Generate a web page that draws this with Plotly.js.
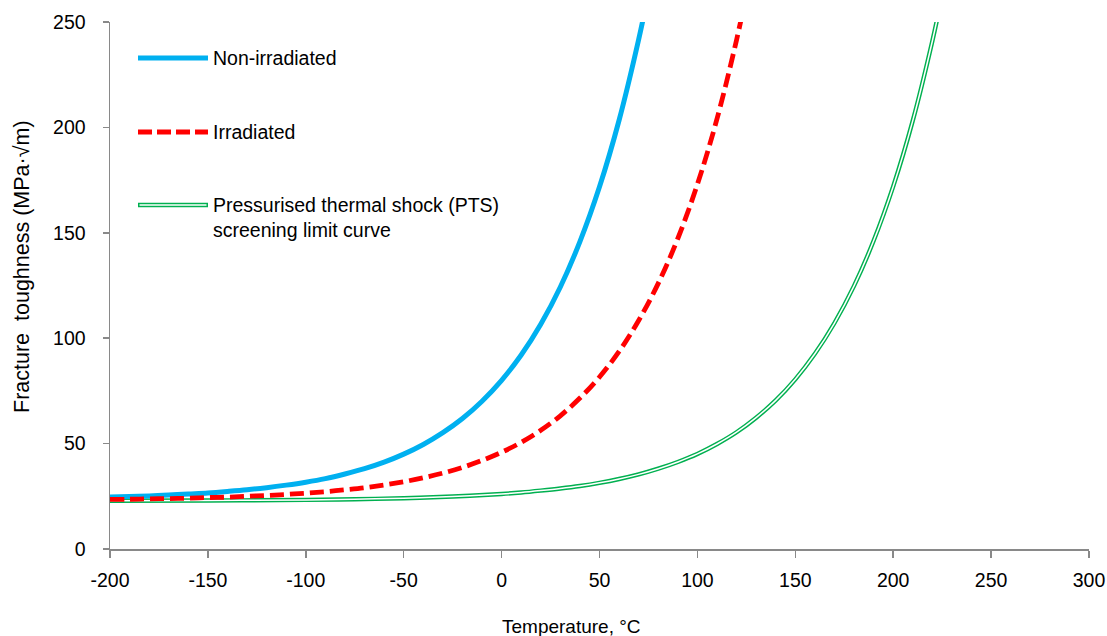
<!DOCTYPE html>
<html>
<head>
<meta charset="utf-8">
<script src="https://cdn.plot.ly/plotly-3.0.1.min.js"></script>
<style>html,body{margin:0;padding:0;background:#fff;}#chart{width:1107px;height:636px;}</style>
</head>
<body>
<div id="chart"></div>
<script>
// Temperature (°C) and fracture toughness (MPa·√m)
const tNon = [-200, -190, -180, -170, -160, -150, -140, -130, -120, -110, -100, -90, -80, -70, -60, -50, -40, -30, -20, -10, 0, 10, 20, 30, 40, 50, 60, 70, 75];
const kNon = [24.7, 24.9, 25.2, 25.6, 26.1, 26.6, 27.3, 28.1, 29.1, 30.3, 31.7, 33.4, 35.6, 38.1, 41.2, 45.0, 49.6, 55.2, 61.9, 70.1, 80.0, 92.0, 106.6, 124.3, 145.8, 171.8, 203.4, 241.7, 263.7];

const tIrr = [-200, -190, -180, -170, -160, -150, -140, -130, -120, -110, -100, -90, -80, -70, -60, -50, -40, -30, -20, -10, 0, 10, 20, 30, 40, 50, 60, 70, 80, 90, 100, 110, 120, 125];
const kIrr = [23.5, 23.6, 23.8, 23.9, 24.1, 24.4, 24.6, 25.0, 25.4, 25.9, 26.5, 27.2, 28.1, 29.1, 30.4, 31.9, 33.8, 36.0, 38.7, 42.0, 45.9, 50.6, 56.3, 63.2, 71.6, 81.6, 93.7, 108.4, 126.0, 147.3, 173.0, 204.0, 241.5, 263.0];

const tPts = [-200, -150, -100, -75, -50, -25, 0, 10, 20, 30, 40, 50, 60, 70, 80, 90, 100, 110, 120, 130, 140, 150, 160, 170, 180, 190, 200, 210, 220, 225];
const kPts = [22.9, 23.0, 23.3, 23.6, 24.1, 24.9, 26.1, 26.8, 27.7, 28.7, 29.9, 31.4, 33.2, 35.4, 38.1, 41.3, 45.1, 49.8, 55.4, 62.3, 70.5, 80.5, 92.6, 107.2, 124.8, 146.2, 172.0, 203.2, 241.0, 262.8];

const xTicks = [-200, -150, -100, -50, 0, 50, 100, 150, 200, 250, 300];
const xTickLabels = ['-200', '-150', '-100', '-50', '0', '50', '100', '150', '200', '250', '300'];
const yTicks = [0, 50, 100, 150, 200, 250];
const yTickLabels = ['0', '50', '100', '150', '200', '250'];

const legendLabels = ['Non-irradiated', 'Irradiated', 'Pressurised thermal shock (PTS)<br>screening limit curve'];
const xTitle = 'Temperature, °C';
const yTitle = 'Fracture\u00a0 toughness (MPa·√m)';

const BLUE = '#00B0F0', RED = '#FF0000', GREEN = '#00B050', AXIS = '#898989';
const FONT = 'Liberation Sans, Arial, sans-serif';

// plot-area pixel helpers for paper coordinates
const L = 110, R = 1089, T = 22, B = 549;
const px = x => (x - L) / (R - L);
const py = y => (B - y) / (B - T);

const traces = [
  {x: tPts, y: kPts, mode: 'lines', line: {color: GREEN, width: 4.4, shape: 'spline', smoothing: 1}, hoverinfo: 'skip', showlegend: false},
  {x: tPts, y: kPts, mode: 'lines', line: {color: '#FFFFFF', width: 1.5, shape: 'spline', smoothing: 1}, hoverinfo: 'skip', showlegend: false},
  {x: tNon, y: kNon, mode: 'lines', line: {color: BLUE, width: 5, shape: 'spline', smoothing: 1}, showlegend: false},
  {x: tIrr, y: kIrr, mode: 'lines', line: {color: RED, width: 4.8, dash: '14px,6px', shape: 'spline', smoothing: 1}, showlegend: false}
];

const legY = [58, 132, 205];
const shapes = [
  {type: 'line', xref: 'paper', yref: 'paper', x0: px(138), x1: px(208), y0: py(legY[0]), y1: py(legY[0]), line: {color: BLUE, width: 5}},
  {type: 'line', xref: 'paper', yref: 'paper', x0: px(138), x1: px(208), y0: py(legY[1]), y1: py(legY[1]), line: {color: RED, width: 5, dash: '14px,5px'}},
  {type: 'line', xref: 'paper', yref: 'paper', x0: px(138), x1: px(208), y0: py(legY[2]), y1: py(legY[2]), line: {color: GREEN, width: 4.4}},
  {type: 'line', xref: 'paper', yref: 'paper', x0: px(139.5), x1: px(206.5), y0: py(legY[2]), y1: py(legY[2]), line: {color: '#FFFFFF', width: 1.5}}
];

const LF = 19.5;
const annotations = [
  {xref: 'paper', yref: 'paper', x: px(211), y: py(legY[0]), xanchor: 'left', yanchor: 'middle', text: legendLabels[0], showarrow: false, font: {family: FONT, size: LF, color: '#000'}},
  {xref: 'paper', yref: 'paper', x: px(211), y: py(legY[1]), xanchor: 'left', yanchor: 'middle', text: legendLabels[1], showarrow: false, font: {family: FONT, size: LF, color: '#000'}},
  {xref: 'paper', yref: 'paper', x: px(211), y: py(legY[2] - 13), xanchor: 'left', yanchor: 'top', align: 'left', text: legendLabels[2], showarrow: false, font: {family: FONT, size: LF, color: '#000'}},
  {xref: 'paper', yref: 'paper', x: px(571), y: py(626), xanchor: 'center', yanchor: 'middle', text: xTitle, showarrow: false, font: {family: FONT, size: 19, color: '#000'}},
  {xref: 'paper', yref: 'paper', x: px(22), y: py(267), xanchor: 'center', yanchor: 'middle', textangle: -90, text: yTitle, showarrow: false, font: {family: FONT, size: 21.5, color: '#000'}}
];

const layout = {
  width: 1107, height: 636,
  margin: {l: L, r: 1107 - R, t: T, b: 636 - B, pad: 0},
  paper_bgcolor: '#fff', plot_bgcolor: '#fff',
  font: {family: FONT, size: LF, color: '#000'},
  showlegend: false,
  xaxis: {range: [-200, 300], tickmode: 'array', tickvals: xTicks, ticktext: xTickLabels, showgrid: false, zeroline: false,
          showline: true, linecolor: AXIS, linewidth: 1.5, ticks: 'outside', ticklen: 7, tickwidth: 1.5, tickcolor: AXIS,
          tickfont: {family: FONT, size: LF, color: '#000'}, ticklabelstandoff: 6, fixedrange: true},
  yaxis: {range: [0, 250], tickmode: 'array', tickvals: yTicks, ticktext: yTickLabels, showgrid: false, zeroline: false,
          showline: true, linecolor: AXIS, linewidth: 1.5, ticks: 'outside', ticklen: 6, tickwidth: 1.5, tickcolor: AXIS,
          tickfont: {family: FONT, size: LF, color: '#000'}, ticklabelstandoff: 13, fixedrange: true},
  shapes: shapes,
  annotations: annotations
};

Plotly.newPlot('chart', traces, layout, {staticPlot: true, displayModeBar: false});
</script>
</body>
</html>
